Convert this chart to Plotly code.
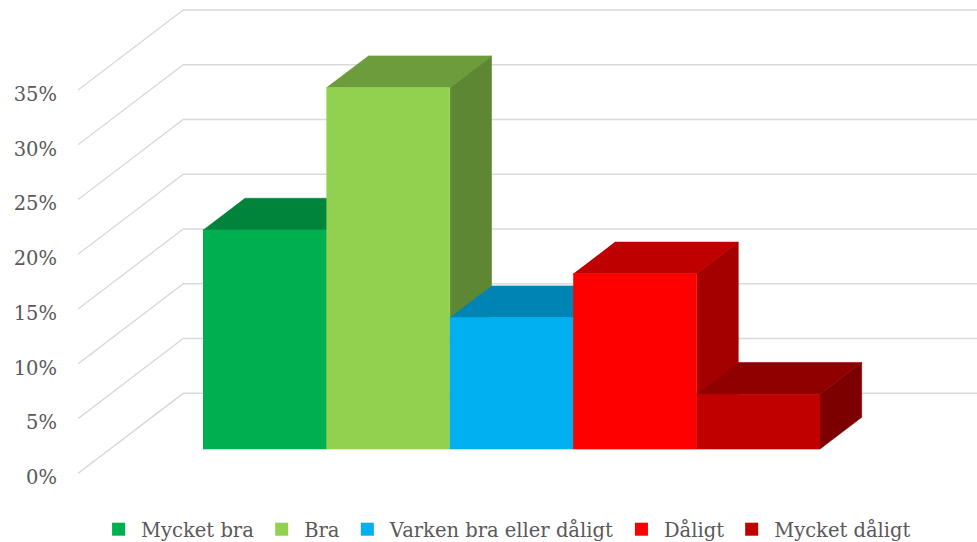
import plotly.graph_objects as go

# ---- data ----
categories = ["Mycket bra", "Bra", "Varken bra eller dåligt", "Dåligt", "Mycket dåligt"]
values = [20, 33, 12, 16, 5]
tick_values = [0, 5, 10, 15, 20, 25, 30, 35]
tick_labels = ["0%", "5%", "10%", "15%", "20%", "25%", "30%", "35%"]

# ---- styles ----
colors = ["#00B050", "#92D050", "#00B0F0", "#FF0000", "#C00000"]
FONT = "DejaVu Serif"
TEXT_COLOR = "#595959"
GRID_COLOR = "#D9D9D9"

# oblique projection: depth d in [0,1] shifts a point right/up
DX = 0.853      # category units per full depth
DY = 7.306      # percent units per full depth
D_FRONT, D_BACK = 0.304, 0.70
HALF = 0.5
X0, X1 = -1.2536, 6.0316   # side wall (front) .. right edge
Y0, Y1 = -6.27, 43.22
FIG_W, FIG_H = 977, 542


def proj(x, v, d):
    return x + d * DX, v + d * DY


def shade(hex_color, k):
    h = hex_color.lstrip("#")
    r, g, b = (int(h[i:i + 2], 16) for i in (0, 2, 4))
    return "rgb({},{},{})".format(int(r * k), int(g * k), int(b * k))


fig = go.Figure()

# gridlines: side wall diagonals + back wall horizontals
gx, gy = [], []
for v in tick_values:
    xa, ya = proj(X0, v, 0)
    xb, yb = proj(X0, v, 1)
    gx += [xa, xb, X1, None]
    gy += [ya, yb, yb, None]
fig.add_trace(go.Scatter(x=gx, y=gy, mode="lines", line=dict(color=GRID_COLOR, width=1.4),
                         hoverinfo="skip", showlegend=False))

# 3D bars, left to right
for i, (cat, v, c) in enumerate(zip(categories, values, colors)):
    xl, xr = i - HALF, i + HALF
    # side face (right)
    pts = [proj(xr, 0, D_FRONT), proj(xr, 0, D_BACK), proj(xr, v, D_BACK), proj(xr, v, D_FRONT)]
    fig.add_trace(go.Scatter(x=[p[0] for p in pts], y=[p[1] for p in pts], fill="toself",
                             mode="lines", line=dict(width=0.6, color=shade(c, 0.65)),
                             fillcolor=shade(c, 0.65), hoverinfo="skip", showlegend=False))
    # top face
    pts = [proj(xl, v, D_FRONT), proj(xr, v, D_FRONT), proj(xr, v, D_BACK), proj(xl, v, D_BACK)]
    fig.add_trace(go.Scatter(x=[p[0] for p in pts], y=[p[1] for p in pts], fill="toself",
                             mode="lines", line=dict(width=0.6, color=shade(c, 0.75)),
                             fillcolor=shade(c, 0.75), hoverinfo="skip", showlegend=False))
    # front face
    pts = [proj(xl, 0, D_FRONT), proj(xr, 0, D_FRONT), proj(xr, v, D_FRONT), proj(xl, v, D_FRONT)]
    fig.add_trace(go.Scatter(x=[p[0] for p in pts], y=[p[1] for p in pts], fill="toself",
                             mode="lines", line=dict(width=0.6, color=c),
                             fillcolor=c, name=cat, hovertemplate=cat + ": %{customdata}%<extra></extra>",
                             customdata=[v] * 4, showlegend=False))

# legend entries
for cat, c in zip(categories, colors):
    fig.add_trace(go.Scatter(x=[None], y=[None], mode="markers", name=cat,
                             marker=dict(symbol="square", size=13, color=c)))

fig.update_layout(
    width=FIG_W, height=FIG_H,
    margin=dict(l=78, r=0, t=0, b=0, autoexpand=False),
    paper_bgcolor="white", plot_bgcolor="white",
    font=dict(family=FONT, size=19.5, color=TEXT_COLOR),
    xaxis=dict(range=[X0, X1], visible=False, fixedrange=True),
    yaxis=dict(range=[Y0, Y1], tickvals=tick_values, ticktext=tick_labels,
               showgrid=False, zeroline=False, showline=False, ticks="",
               ticklabelstandoff=20, ticklabelshift=4,
               tickfont=dict(family=FONT, size=19.5, color=TEXT_COLOR),
               fixedrange=True),
    legend=dict(orientation="h", xref="container", yref="container",
                x=0.518, xanchor="center", y=0.023, yanchor="middle",
                itemwidth=35,
                font=dict(family=FONT, size=19.5, color=TEXT_COLOR), bgcolor="rgba(0,0,0,0)"),
    showlegend=True,
)

fig.write_html(
    "out.html",
    config={"displayModeBar": False},
    post_script="document.body.style.margin='0px';document.body.style.overflow='hidden';",
)
